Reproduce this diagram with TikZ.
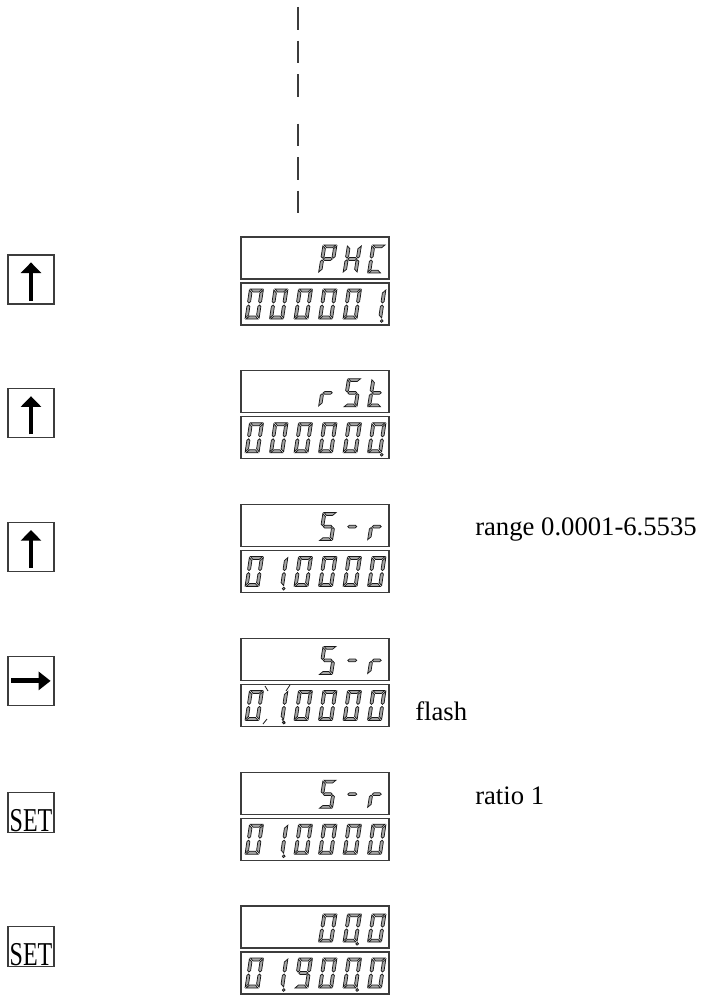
\documentclass[tikz,border=0pt]{standalone}
\usepackage{fontspec}
\setmainfont{Liberation Serif}
\definecolor{segfill}{RGB}{165,165,165}
\definecolor{segline}{RGB}{25,25,25}
\definecolor{frameline}{RGB}{60,60,60}
\usetikzlibrary{arrows.meta,positioning,calc}

% pieces of one seven-segment cell (14 wide, 30 high, y pointing down)
\newcommand{\segparta}{\filldraw[segment] (1,0) -- (13,0) -- (10,3) -- (4,3) -- cycle;}
\newcommand{\segpartf}{\filldraw[segment] (0,1) -- (3,4) -- (3,12.5) -- (1.5,14) -- (0,12.5) -- cycle;}
\newcommand{\segpartb}{\filldraw[segment] (14,1) -- (11,4) -- (11,12.5) -- (12.5,14) -- (14,12.5) -- cycle;}
\newcommand{\segpartg}{\filldraw[segment] (2.5,15) -- (4,13.5) -- (10,13.5) -- (11.5,15) -- (10,16.5) -- (4,16.5) -- cycle;}
\newcommand{\segparte}{\filldraw[segment] (0,29) -- (3,26) -- (3,17.5) -- (1.5,16) -- (0,17.5) -- cycle;}
\newcommand{\segpartc}{\filldraw[segment] (14,29) -- (11,26) -- (11,17.5) -- (12.5,16) -- (14,17.5) -- cycle;}
\newcommand{\segpartd}{\filldraw[segment] (1,30) -- (13,30) -- (10,27) -- (4,27) -- cycle;}
\newcommand{\segpartp}{\filldraw[segment] (14.5,32) circle[radius=1.4];}
% glyphs
\newcommand{\glyphzero}{\segparta\segpartb\segpartc\segpartd\segparte\segpartf}
\newcommand{\glyphone}{\segpartb\segpartc}
\newcommand{\glyphnine}{\segparta\segpartb\segpartc\segpartd\segpartf\segpartg}
\newcommand{\glyphS}{\segparta\segpartc\segpartd\segpartf\segpartg}
\newcommand{\glyphP}{\segparta\segpartb\segparte\segpartf\segpartg}
\newcommand{\glyphH}{\segpartb\segpartc\segparte\segpartf\segpartg}
\newcommand{\glyphC}{\segparta\segpartd\segparte\segpartf}
\newcommand{\glyphr}{\segparte\segpartg}
\newcommand{\glypht}{\segpartd\segparte\segpartf\segpartg}
\newcommand{\glyphdash}{\segpartg}
\newcommand{\glyphdot}{\segpartp}
% one line of six cells: #1 top, #2 y scale, #3 glyphs
\newcommand{\digitrow}[3]{%
  \foreach \g [count=\k] in {#3} {
    \begin{scope}[shift={({249.5+24.5*(\k-1)},#1)}, yscale=#2, xslant=0.15]
      \g
    \end{scope}
  }}
\newcommand{\setlabel}{\scalebox{0.72}[1]{SET}}

\begin{document}
\begin{tikzpicture}[x=0.75pt, y=-0.75pt,
  segment/.style={fill=segfill, draw=segline, line width=0.55pt, line join=miter},
  dispbox/.style={draw=frameline, line width=1pt, minimum width=111pt, minimum height=31.5pt, inner sep=0pt},
  keybox/.style={draw=frameline, line width=0.9pt, minimum width=34.5pt, minimum height=36.75pt, inner sep=0pt},
  keyarrow/.style={line width=3.7pt, -{Triangle[length=8pt, width=15pt]}},
  setkey/.style={draw=frameline, line width=0.9pt, minimum width=34.5pt, text height=28pt, text depth=0pt,
                 inner ysep=1.1pt, inner xsep=0pt, font=\fontsize{25}{25}\selectfont},
  flashmark/.style={draw=segline, line width=0.6pt},
  note/.style={inner sep=0pt, anchor=base west, font=\fontsize{20}{24}\selectfont}]
  \useasboundingbox (0,0) rectangle (706,995);

  % dashed lead-in
  \coordinate (dashtop) at (298,7);
  \coordinate (dashbot) at (298,213);
  \draw[frameline, line width=1.1pt, dash pattern=on 16.9pt off 8.25pt on 16.9pt off 8.25pt on 16.9pt off 20.25pt]
    (dashtop) -- (dashbot);

  % row 1: PHC
  \node[keybox] (key1) at (31,279.5) {};
  \draw[keyarrow] ([yshift=3pt]key1.south) -- ([yshift=-6pt]key1.north);
  \node[dispbox] (up1) at (315,258) {};
  \node[dispbox] (low1) at (315,304) {};
  \digitrow{245}{0.933}{{},{},{},\glyphP,\glyphH,\glyphC}
  \digitrow{289}{1}{\glyphzero,\glyphzero,\glyphzero,\glyphzero,\glyphzero,\glyphone\glyphdot}

  % row 2: rSt
  \node[keybox] (key2) at (31,413.3) {};
  \draw[keyarrow] ([yshift=3pt]key2.south) -- ([yshift=-6pt]key2.north);
  \node[dispbox] (up2) at (315,391.8) {};
  \node[dispbox] (low2) at (315,437.8) {};
  \digitrow{378.8}{0.933}{{},{},{},\glyphr,\glyphS,\glypht}
  \digitrow{422.8}{1}{\glyphzero,\glyphzero,\glyphzero,\glyphzero,\glyphzero,\glyphzero\glyphdot}

  % row 3: S-r
  \node[keybox] (key3) at (31,547.1) {};
  \draw[keyarrow] ([yshift=3pt]key3.south) -- ([yshift=-6pt]key3.north);
  \node[dispbox] (up3) at (315,525.6) {};
  \node[dispbox] (low3) at (315,571.6) {};
  \digitrow{512.6}{0.933}{{},{},{},\glyphS,\glyphdash,\glyphr}
  \digitrow{556.6}{1}{\glyphzero,\glyphone\glyphdot,\glyphzero,\glyphzero,\glyphzero,\glyphzero}
  \node[note] (range) at (475,535) {range 0.0001-6.5535};

  % row 4: shift, flashing digit
  \node[keybox] (key4) at (31,680.9) {};
  \draw[keyarrow, -{Triangle[length=9pt, width=13.5pt]}] ([xshift=3pt]key4.west) -- ([xshift=-3pt]key4.east);
  \node[dispbox] (up4) at (315,659.4) {};
  \node[dispbox] (low4) at (315,705.4) {};
  \digitrow{646.4}{0.933}{{},{},{},\glyphS,\glyphdash,\glyphr}
  \digitrow{690.4}{1}{\glyphzero,\glyphone\glyphdot,\glyphzero,\glyphzero,\glyphzero,\glyphzero}
  \draw[flashmark] (265,686) -- (268,691);
  \draw[flashmark] (267,719) -- (263,724);
  \draw[flashmark] (290,685) -- (286,691);
  \draw[flashmark] (282,719) -- (285,724);
  \node[note] (flash) at (415,720) {flash};

  % row 5: SET
  \node[setkey] (key5) at (31,812.7) {\setlabel};
  \node[dispbox] (up5) at (315,793.2) {};
  \node[dispbox] (low5) at (315,839.2) {};
  \digitrow{780.2}{0.933}{{},{},{},\glyphS,\glyphdash,\glyphr}
  \digitrow{824.2}{1}{\glyphzero,\glyphone\glyphdot,\glyphzero,\glyphzero,\glyphzero,\glyphzero}
  \node[note] (ratio) at (475,804) {ratio 1};

  % row 6: SET
  \node[setkey] (key6) at (31,946.5) {\setlabel};
  \node[dispbox] (up6) at (315,927) {};
  \node[dispbox] (low6) at (315,973) {};
  \digitrow{914}{0.933}{{},{},{},\glyphzero,\glyphzero\glyphdot,\glyphzero}
  \digitrow{958}{1}{\glyphzero,\glyphone\glyphdot,\glyphnine,\glyphzero,\glyphzero\glyphdot,\glyphzero}
\end{tikzpicture}
\end{document}
